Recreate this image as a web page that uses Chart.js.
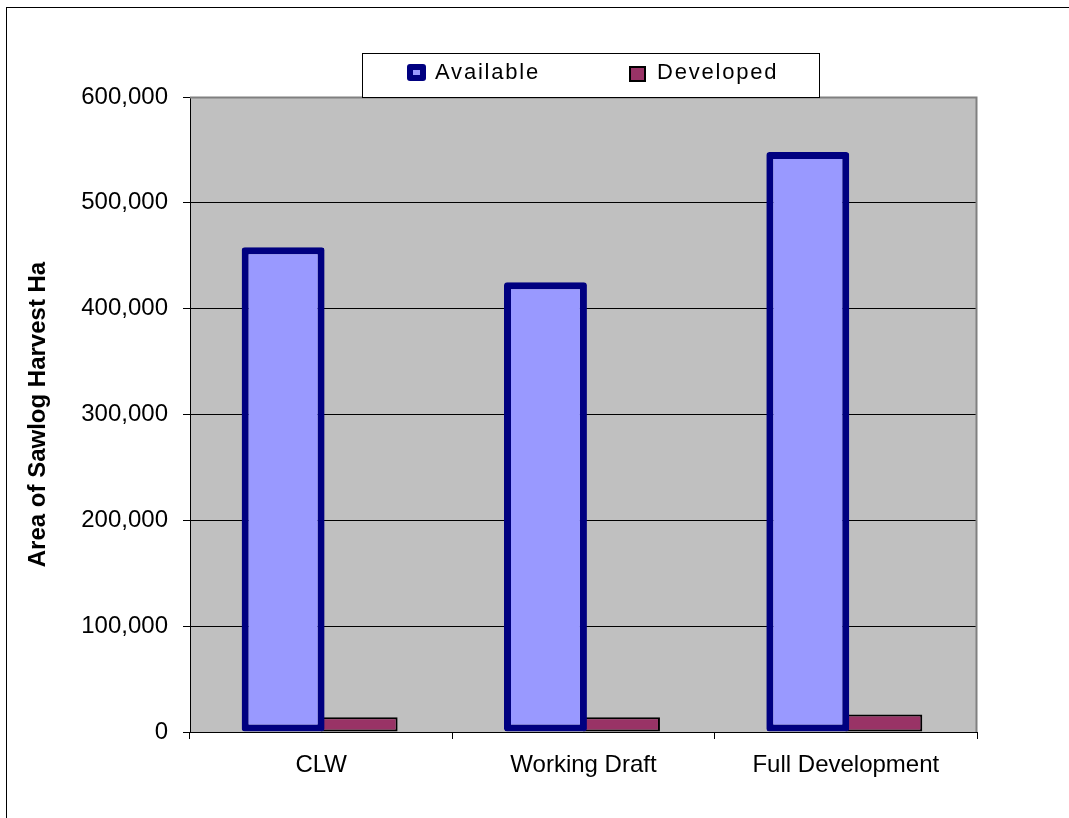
<!DOCTYPE html>
<html>
<head>
<meta charset="utf-8">
<title>Area of Sawlog Harvest</title>
<script src="https://cdn.jsdelivr.net/npm/chart.js@4/dist/chart.umd.min.js"></script>
<style>
    body { margin: 0; background: #fff; }
    canvas { display: block; }
</style>
</head>
<body>
<canvas id="harvestChart" width="1069" height="818"></canvas>
<script>
// Chart data
const categories = ['CLW', 'Working Draft', 'Full Development'];
const availableHa = [458000, 425000, 548000];
const developedHa = [14000, 14000, 16500];
const seriesNames = ['Available', 'Developed'];

const FONT = "'Liberation Sans', Arial, sans-serif";

// Page frame + grey plot background
const backgroundPlugin = {
    id: 'background',
    beforeDraw(chart) {
        const ctx = chart.ctx;
        const area = chart.chartArea;
        ctx.save();
        ctx.fillStyle = '#fff';
        ctx.fillRect(0, 0, chart.width, chart.height);
        ctx.strokeStyle = '#000';
        ctx.lineWidth = 1;
        ctx.strokeRect(6.5, 7.5, chart.width + 20, chart.height + 20);
        ctx.fillStyle = '#C0C0C0';
        ctx.fillRect(area.left, area.top, area.right - area.left, area.bottom - area.top);
        ctx.restore();
    },
    beforeDatasetsDraw(chart) {
        // grey edge on top and right of the plot
        const ctx = chart.ctx;
        const area = chart.chartArea;
        ctx.save();
        ctx.strokeStyle = '#808080';
        ctx.lineWidth = 2;
        ctx.beginPath();
        ctx.moveTo(area.left, area.top + 0.5);
        ctx.lineTo(area.right - 0.5, area.top + 0.5);
        ctx.lineTo(area.right - 0.5, area.bottom);
        ctx.stroke();
        ctx.restore();
    }
};

// Boxed legend sitting on top edge of the plot
const boxLegendPlugin = {
    id: 'boxLegend',
    afterDraw(chart) {
        const ctx = chart.ctx;
        const ds = chart.data.datasets;
        ctx.save();
        ctx.fillStyle = '#fff';
        ctx.fillRect(362.5, 53.5, 457, 44);
        ctx.strokeStyle = '#000';
        ctx.lineWidth = 1;
        ctx.strokeRect(362.5, 53.5, 457, 44);

        // Available marker: dark square with small light centre
        ctx.fillStyle = ds[0].borderColor;
        ctx.beginPath();
        ctx.roundRect(407, 64, 19, 17, 3);
        ctx.fill();
        ctx.fillStyle = ds[0].backgroundColor;
        ctx.fillRect(413, 70, 7, 5);

        // Developed marker
        ctx.fillStyle = ds[1].backgroundColor;
        ctx.fillRect(630, 67, 15, 14);
        ctx.strokeStyle = '#000';
        ctx.lineWidth = 2;
        ctx.strokeRect(630, 67, 15, 14);

        ctx.fillStyle = '#000';
        ctx.font = '22px ' + FONT;
        ctx.textBaseline = 'middle';
        ctx.letterSpacing = '1.8px';
        ctx.fillText(ds[0].label, 435, 73);
        ctx.fillText(ds[1].label, 657, 73);
        ctx.restore();
    }
};

new Chart(document.getElementById('harvestChart'), {
    type: 'bar',
    data: {
        labels: categories,
        datasets: [{
            label: seriesNames[0],
            data: availableHa,
            backgroundColor: '#9999FF',
            borderColor: '#000080',
            borderWidth: 7,
            borderSkipped: false,
            borderRadius: 3,
            barPercentage: 1.09
        }, {
            label: seriesNames[1],
            data: developedHa,
            backgroundColor: '#993366',
            borderColor: '#000000',
            borderWidth: 2,
            borderSkipped: false,
            barPercentage: 1.01
        }]
    },
    options: {
        responsive: false,
        devicePixelRatio: 1,
        animation: false,
        categoryPercentage: 0.58,
        layout: { padding: { top: 97, right: 92, left: 0, bottom: 0 } },
        plugins: {
            legend: { display: false },
            tooltip: { enabled: false }
        },
        scales: {
            x: {
                grid: {
                    offset: true,
                    drawOnChartArea: false,
                    drawTicks: true,
                    tickLength: 7,
                    color: '#000'
                },
                border: { color: '#000', width: 1 },
                ticks: {
                    color: '#000',
                    padding: 12,
                    font: { family: FONT, size: 24 }
                },
                afterFit(scale) { scale.height = 86; }
            },
            y: {
                min: 0,
                max: 600000,
                ticks: {
                    stepSize: 100000,
                    color: '#000',
                    padding: 15,
                    font: { family: FONT, size: 24 },
                    callback: v => v.toLocaleString('en-US')
                },
                grid: {
                    color: '#000',
                    lineWidth: 1,
                    tickLength: 7
                },
                border: { color: '#000', width: 1 },
                title: {
                    display: true,
                    text: 'Area of Sawlog Harvest Ha',
                    color: '#000',
                    padding: { top: 24, bottom: 0 },
                    font: { family: FONT, size: 24, weight: 'bold' }
                },
                afterFit(scale) { scale.width = 190; }
            }
        }
    },
    plugins: [backgroundPlugin, boxLegendPlugin]
});
</script>
</body>
</html>
